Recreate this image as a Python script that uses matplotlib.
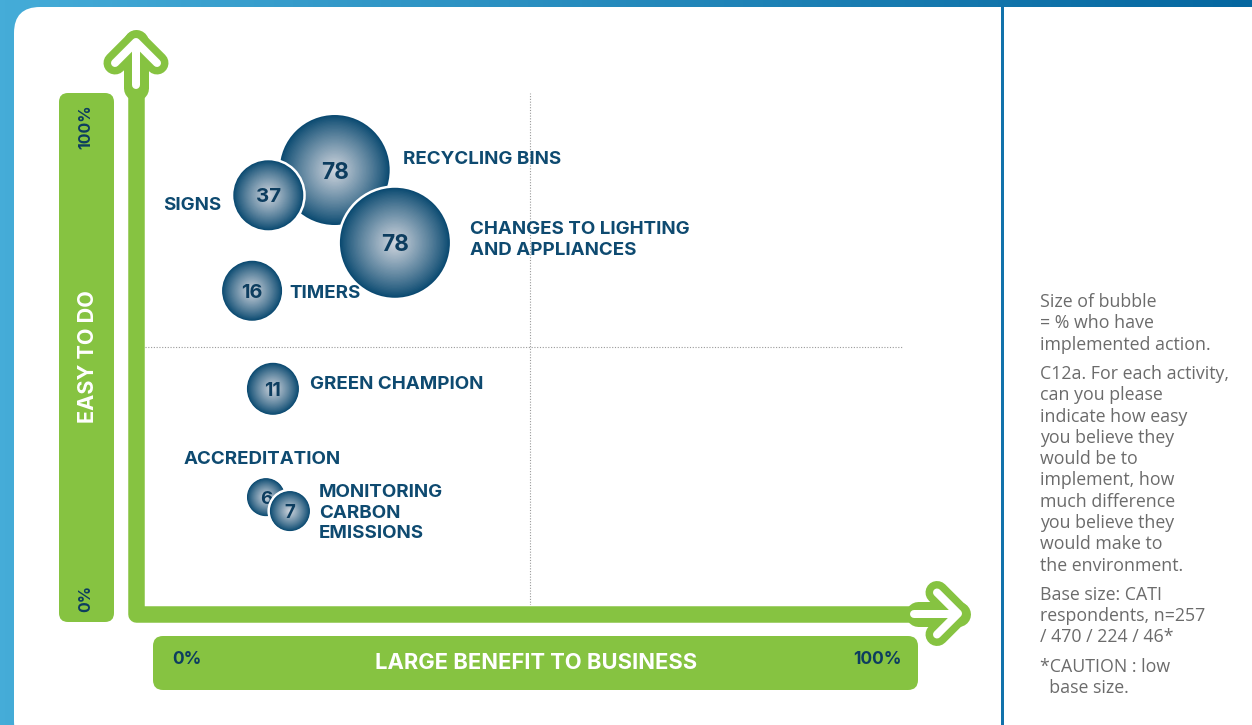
import numpy as np
import matplotlib.pyplot as plt
from matplotlib.patches import FancyBboxPatch
from matplotlib.colors import LinearSegmentedColormap, to_rgb

# data
actions = ["RECYCLING BINS", "SIGNS", "CHANGES TO LIGHTING\nAND APPLIANCES", "TIMERS",
           "GREEN CHAMPION", "ACCREDITATION", "MONITORING\nCARBON\nEMISSIONS"]
implemented = [78, 37, 78, 16, 11, 6, 7]
benefit = [24.7, 16.1, 32.5, 14.0, 16.7, 15.8, 18.9]
ease = [84.3, 79.4, 70.2, 60.9, 41.9, 20.9, 18.2]
bubble_px = [55, 35, 55, 30, 26, 19, 20]

note_paragraphs = [
    ["Size of bubble", "= % who have", "implemented action."],
    ["C12a. For each activity,", "can you please", "indicate how easy", "you believe they",
     "would be to", "implement, how", "much difference", "you believe they",
     "would make to", "the environment."],
    ["Base size: CATI", "respondents, n=257", "/ 470 / 224 / 46*"],
    ["*CAUTION : low", "  base size."],
]

GREEN = "#86c341"
NAVY = "#0e4a70"
NUM = "#0d3d5f"
EDGE = np.array(to_rgb("#0b4a71"))
CENTER = np.array(to_rgb("#d2d7df"))
W, H = 1252, 725
PT = 0.72  # points per pixel at dpi 100

fig = plt.figure(figsize=(W / 100, H / 100), dpi=100)
bg = fig.add_axes([0, 0, 1, 1])
bg.axis("off")

# blue frame and white panel
cmap_bg = LinearSegmentedColormap.from_list("bg", ["#45acd8", "#0567a0"])
bg.imshow(np.linspace(0, 1, 256).reshape(1, -1), extent=[0, W, H, 0], cmap=cmap_bg,
          aspect="auto", zorder=0)
bg.add_patch(FancyBboxPatch((14, 7), 1270, 740, boxstyle="round,pad=0,rounding_size=26",
                            fc="white", ec="none", zorder=1))
bg.plot([1002, 1002], [7, H], color="#1172ab", lw=3 * PT, zorder=2)
bg.set_xlim(0, W)
bg.set_ylim(H, 0)

# green label bars
bg.add_patch(FancyBboxPatch((59, 93), 55, 529, boxstyle="round,pad=0,rounding_size=9",
                            fc=GREEN, ec="none", zorder=2))
bg.add_patch(FancyBboxPatch((153, 636), 765, 54, boxstyle="round,pad=0,rounding_size=10",
                            fc=GREEN, ec="none", zorder=2))

# axis bars with arrows
bg.plot([136, 136, 958], [60, 613.5, 613.5], color=GREEN, lw=16.5 * PT,
        solid_joinstyle="round", solid_capstyle="butt", zorder=3)
bg.plot([136, 136], [42, 88], color=GREEN, lw=25 * PT, solid_capstyle="round", zorder=3)
bg.plot([115, 136, 157], [63, 42, 63], color=GREEN, lw=23 * PT,
        solid_capstyle="round", solid_joinstyle="round", zorder=3)
bg.plot([136, 136], [44, 85], color="white", lw=8 * PT, solid_capstyle="round", zorder=4)
bg.plot([115, 136, 157], [63, 42, 63], color="white", lw=8 * PT,
        solid_capstyle="round", solid_joinstyle="round", zorder=4)
bg.plot([958, 918], [613.5, 613.5], color=GREEN, lw=25 * PT, solid_capstyle="round", zorder=3)
bg.plot([937, 958, 937], [592.5, 613.5, 634.5], color=GREEN, lw=23 * PT,
        solid_capstyle="round", solid_joinstyle="round", zorder=3)
bg.plot([956, 914], [613.5, 613.5], color="white", lw=8 * PT, solid_capstyle="round", zorder=4)
bg.plot([937, 958, 937], [592.5, 613.5, 634.5], color="white", lw=8 * PT,
        solid_capstyle="round", solid_joinstyle="round", zorder=4)

# axis texts
bold = dict(family="Inter", fontweight="bold")
bg.text(86, 127, "100%", rotation=90, ha="center", va="center", fontsize=11.5, color=NUM, zorder=5, **bold)
bg.text(86, 598, "0%", rotation=90, ha="center", va="center", fontsize=11.5, color=NUM, zorder=5, **bold)
bg.text(88, 357, "EASY TO DO", rotation=90, ha="center", va="center", fontsize=15.6,
        color="white", zorder=5, **bold)
bg.text(172, 660, "0%", ha="left", va="center", fontsize=12.5, color=NUM, zorder=5, **bold)
bg.text(902, 660, "100%", ha="right", va="center", fontsize=12.5, color=NUM, zorder=5, **bold)
bg.text(536, 663, "LARGE BENEFIT TO BUSINESS", ha="center", va="center", fontsize=15.8,
        color="white", zorder=5, **bold)

# side notes
y = 307
for para in note_paragraphs:
    for line in para:
        bg.text(1040, y, line, ha="left", va="baseline", fontsize=12.8, family="Open Sans",
                color="#6b6b6b", zorder=5)
        y += 21.3
    y += 8

# plot area
ax = fig.add_axes([144 / W, (H - 605) / H, 772 / W, 516 / H])
ax.set_xlim(0, 100)
ax.set_ylim(0, 100)
ax.axis("off")
ax.patch.set_alpha(0)
ax.plot([50, 50], [0, 99.2], color="#9a9a9a", lw=0.8, ls=(0, (1, 1.5)), zorder=1)
ax.plot([0.1, 98.2], [50, 50], color="#9a9a9a", lw=0.8, ls=(0, (1, 1.5)), zorder=1)

label_offsets = [(68, 10.5, "left"), (-47, -10, "right"), (75, 3, "left"), (37, -2.5, "left"),
                 (37, 4, "left"), (-82, 37.5, "left"), (29, -2, "left")]

n = 40
fr = np.linspace(1, 0.02, n)
for i, (name, v, bx, ey, r) in enumerate(zip(actions, implemented, benefit, ease, bubble_px)):
    z = 10 + 2 * i
    sizes = [(2 * (r + 2.5) * PT) ** 2] + list((2 * r * fr * PT) ** 2)
    cols = [(1, 1, 1)] + [tuple(EDGE + (CENTER - EDGE) * (1 - f) ** 0.9) for f in fr]
    ax.scatter([bx] * (n + 1), [ey] * (n + 1), s=sizes, c=cols, linewidths=0,
               zorder=z, clip_on=False)
    ax.text(bx, ey, str(v), ha="center", va="center_baseline", fontsize=12 + r / 13,
            color=NUM, zorder=z + 1, **bold)
    dx, dy, ha = label_offsets[i]
    ax.annotate(name, (bx, ey), xytext=(dx, dy), textcoords="offset pixels", ha=ha,
                va="center", fontsize=13.5, color=NAVY, linespacing=1.3, zorder=40, **bold)

fig.savefig("out.png", dpi=100)
